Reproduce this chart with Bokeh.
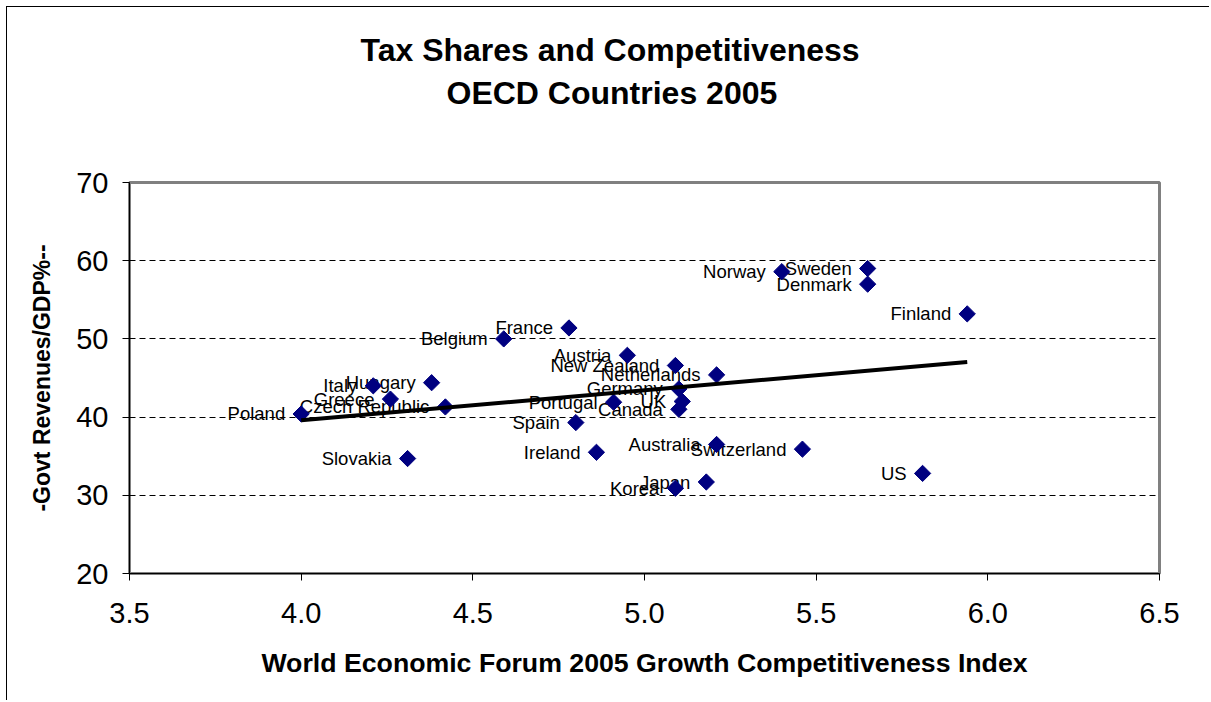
import numpy as np
from bokeh.plotting import figure
from bokeh.models import ColumnDataSource, FixedTicker, NumeralTickFormatter, Title, Range1d
from bokeh.embed import file_html
from bokeh.resources import INLINE
from bokeh.core.properties import value

# ---- data ----
countries = ["Poland", "Slovakia", "Italy", "Hungary", "Greece", "Czech Republic",
             "Belgium", "France", "Austria", "New Zealand", "Netherlands", "Germany",
             "UK", "Canada", "Portugal", "Spain", "Ireland", "Australia",
             "Switzerland", "Japan", "Korea", "US", "Norway", "Sweden", "Denmark", "Finland"]
wef_index = [4.00, 4.31, 4.21, 4.38, 4.26, 4.42,
             4.59, 4.78, 4.95, 5.09, 5.21, 5.10,
             5.11, 5.10, 4.91, 4.80, 4.86, 5.21,
             5.46, 5.18, 5.09, 5.81, 5.40, 5.65, 5.65, 5.94]
revenue_gdp = [40.4, 34.7, 44.0, 44.4, 42.3, 41.3,
               50.0, 51.4, 47.9, 46.6, 45.4, 43.6,
               42.0, 41.0, 41.9, 39.3, 35.5, 36.5,
               35.9, 31.7, 30.9, 32.8, 58.6, 59.0, 57.0, 53.2]

x_ticks = [3.5, 4.0, 4.5, 5.0, 5.5, 6.0, 6.5]
y_ticks = [20, 30, 40, 50, 60, 70]
grid_ticks = [30, 40, 50, 60]

title_lines = ["Tax Shares and Competitiveness", "OECD Countries 2005"]
x_label = "World Economic Forum 2005 Growth Competitiveness Index"
y_label = "-Govt Revenues/GDP%--"

FONT = "Liberation Sans"

src = ColumnDataSource(dict(x=wef_index, y=revenue_gdp, name=countries))

p = figure(width=1203, height=694, output_backend="svg", toolbar_location=None,
           x_range=Range1d(x_ticks[0], x_ticks[-1]), y_range=Range1d(y_ticks[0], y_ticks[-1]),
           min_border_left=122, min_border_right=51, min_border_top=175, min_border_bottom=128,
           background_fill_color="white", border_fill_color="white")
# chart-area border (left and top edges visible in the reference)
p.styles = {"margin-left": "6px", "margin-top": "6px",
            "border-left": "1px solid black", "border-top": "1px solid black"}

p.outline_line_color = "#808080"
p.outline_line_width = 3

# axes
p.xaxis.ticker = FixedTicker(ticks=x_ticks)
p.xaxis.formatter = NumeralTickFormatter(format="0.0")
p.yaxis.ticker = FixedTicker(ticks=y_ticks)
for ax in (p.xaxis[0], p.yaxis[0]):
    ax.axis_line_color = "black"
    ax.axis_line_width = 1
    ax.major_tick_line_color = "black"
    ax.major_tick_out = 7
    ax.major_tick_in = 0
    ax.minor_tick_line_color = None
    ax.major_label_text_font = FONT
    ax.major_label_text_font_size = "29px"
    ax.major_label_text_color = "black"
    ax.axis_label_text_font = FONT
    ax.axis_label_text_font_style = "bold"
    ax.axis_label_text_color = "black"
p.xaxis.major_label_standoff = 22
p.yaxis.major_label_standoff = 14
p.xaxis.axis_label = x_label
p.xaxis.axis_label_text_font_size = "26.7px"
p.xaxis.axis_label_standoff = 22
p.yaxis.axis_label = y_label
p.yaxis.axis_label_text_font_size = "23px"
p.yaxis.axis_label_standoff = 18

# grid
p.xgrid.grid_line_color = None
p.ygrid.ticker = FixedTicker(ticks=grid_ticks)
p.ygrid.grid_line_color = "black"
p.ygrid.grid_line_dash = "6 4"
p.ygrid.grid_line_width = 1

# data labels, markers
p.text("x", "y", text="name", source=src, x_offset=-16, y_offset=0,
       text_align="right", text_baseline="middle",
       text_font=value(FONT), text_font_size="18.5px", text_color="black")
p.scatter("x", "y", source=src, marker="square", size=11.5, angle=np.pi / 4,
          fill_color="#000080", line_color="#000080")

# linear trend line
xa = np.array(wef_index)
ya = np.array(revenue_gdp)
k, b = np.polyfit(xa, ya, 1)
tx = np.array([xa.min(), xa.max()])
p.line(tx, k * tx + b, line_color="black", line_width=4)

# spacer between frame and title, then two-line title (added nearest-first)
p.add_layout(Title(text=" ", text_font_size="1px", standoff=67), "above")
p.add_layout(Title(text=title_lines[1], align="left", offset=317, standoff=4,
                   text_font=FONT, text_font_size="32px", text_font_style="bold",
                   text_color="black"), "above")
p.add_layout(Title(text=title_lines[0], align="left", offset=231, standoff=6,
                   text_font=FONT, text_font_size="32px", text_font_style="bold",
                   text_color="black"), "above")

open("out.html", "w").write(file_html(p, INLINE))
